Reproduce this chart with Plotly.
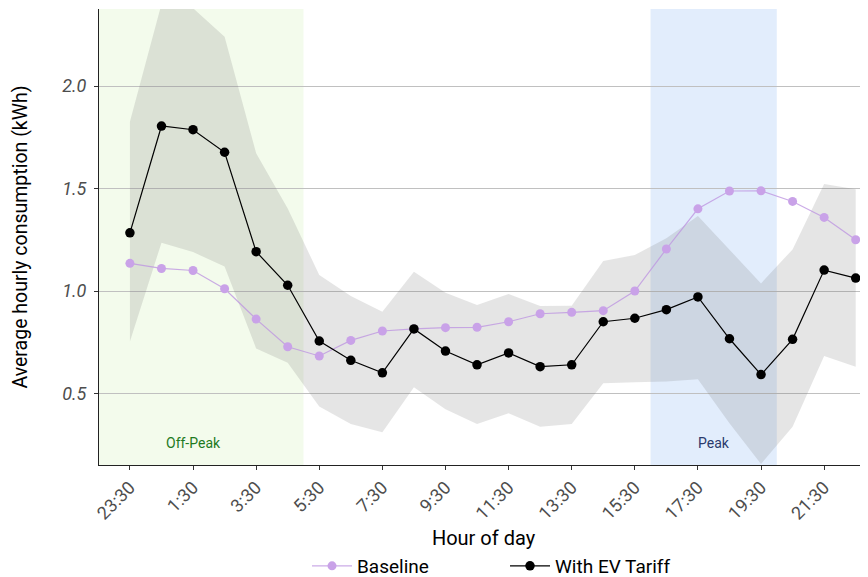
import plotly.graph_objects as go

hours = ["23:30", "0:30", "1:30", "2:30", "3:30", "4:30", "5:30", "6:30", "7:30", "8:30",
         "9:30", "10:30", "11:30", "12:30", "13:30", "14:30", "15:30", "16:30", "17:30",
         "18:30", "19:30", "20:30", "21:30", "22:30"]
baseline = [1.135, 1.11, 1.10, 1.011, 0.863, 0.728, 0.683, 0.759, 0.805, 0.815,
            0.821, 0.823, 0.850, 0.889, 0.896, 0.904, 1.0, 1.205, 1.401, 1.488,
            1.489, 1.437, 1.359, 1.250]
ev_tariff = [1.284, 1.805, 1.787, 1.677, 1.192, 1.028, 0.756, 0.662, 0.601, 0.815,
             0.707, 0.640, 0.698, 0.631, 0.640, 0.850, 0.867, 0.909, 0.971, 0.767,
             0.592, 0.764, 1.102, 1.063]
ev_upper = [1.826, 2.40, 2.38, 2.241, 1.672, 1.403, 1.078, 0.976, 0.899, 1.094,
            0.992, 0.932, 0.985, 0.927, 0.928, 1.146, 1.176, 1.257, 1.366, 1.202,
            1.037, 1.203, 1.522, 1.496]
ev_lower = [0.753, 1.236, 1.19, 1.119, 0.720, 0.650, 0.436, 0.351, 0.311, 0.530,
            0.423, 0.351, 0.403, 0.338, 0.351, 0.550, 0.555, 0.558, 0.569, 0.355,
            0.156, 0.338, 0.683, 0.631]
tick_labels = ["23:30", "1:30", "3:30", "5:30", "7:30", "9:30", "11:30", "13:30",
               "15:30", "17:30", "19:30", "21:30"]
y_ticks = [0.5, 1.0, 1.5, 2.0]
y_tick_text = ["0.5", "1.0", "1.5", "2.0"]

FONT = "Roboto"

fig = go.Figure()

# ribbon
fig.add_trace(go.Scatter(x=hours, y=ev_upper, mode="lines", line=dict(width=0),
                         showlegend=False, hoverinfo="skip"))
fig.add_trace(go.Scatter(x=hours, y=ev_lower, mode="lines", line=dict(width=0),
                         fill="tonexty", fillcolor="rgba(110,110,110,0.18)",
                         showlegend=False, hoverinfo="skip"))

fig.add_trace(go.Scatter(x=hours, y=baseline, mode="lines+markers", name="Baseline",
                         line=dict(color="rgba(190,150,225,0.8)", width=1.2),
                         marker=dict(color="#c9a2e8", size=9)))
fig.add_trace(go.Scatter(x=hours, y=ev_tariff, mode="lines+markers", name="With EV Tariff",
                         line=dict(color="black", width=1.2),
                         marker=dict(color="black", size=9.5)))

fig.add_shape(type="rect", xref="x", yref="paper", x0=-1.5, x1=5.5, y0=0, y1=1,
              fillcolor="rgba(239,249,228,0.72)", line=dict(width=0), layer="between")
fig.add_shape(type="rect", xref="x", yref="paper", x0=16.5, x1=20.5, y0=0, y1=1,
              fillcolor="rgba(214,229,251,0.70)", line=dict(width=0), layer="between")

fig.add_annotation(x=2, y=0.259, text="Off-Peak", showarrow=False,
                   font=dict(family=FONT, size=14, color="#1e7a1e"))
fig.add_annotation(x=18.5, y=0.259, text="Peak", showarrow=False,
                   font=dict(family=FONT, size=14, color="#2a3a6c"))

fig.update_xaxes(type="category", categoryorder="array", categoryarray=hours,
                 range=[-0.98, 23.39], tickmode="array", tickvals=tick_labels,
                 ticktext=tick_labels, tickangle=-45, ticks="outside", ticklen=4,
                 tickcolor="#333333", showline=True, linecolor="#222222", linewidth=1,
                 showgrid=False, zeroline=False, automargin=False,
                 tickfont=dict(family=FONT, size=18, color="#4d4d4d"),
                 title=dict(text="Hour of day", font=dict(family=FONT, size=20, color="black"),
                            standoff=8))
fig.update_yaxes(range=[0.151, 2.376], tickmode="array", tickvals=y_ticks,
                 ticktext=["<i>%s</i>" % t for t in y_tick_text],
                 ticks="outside", ticklen=4, tickcolor="#333333", ticklabelstandoff=4,
                 showline=True, linecolor="#222222", linewidth=1, automargin=False,
                 showgrid=True, gridcolor="#c0c0c0", gridwidth=1, zeroline=False,
                 tickfont=dict(family=FONT, size=18, color="#4d4d4d"),
                 title=dict(text="Average hourly consumption (kWh)",
                            font=dict(family=FONT, size=19.5, color="black"), standoff=29))

fig.update_layout(width=860, height=569, plot_bgcolor="white", paper_bgcolor="white",
                  margin=dict(l=91, r=0, t=1, b=112, autoexpand=False),
                  legend=dict(orientation="h", x=0.2705, xanchor="left", y=-0.2215,
                              yanchor="middle", traceorder="normal",
                              font=dict(family=FONT, size=19, color="black"),
                              entrywidth=143, entrywidthmode="pixels",
                              itemwidth=40, tracegroupgap=0),
                  showlegend=True)

fig.write_html("out.html")
